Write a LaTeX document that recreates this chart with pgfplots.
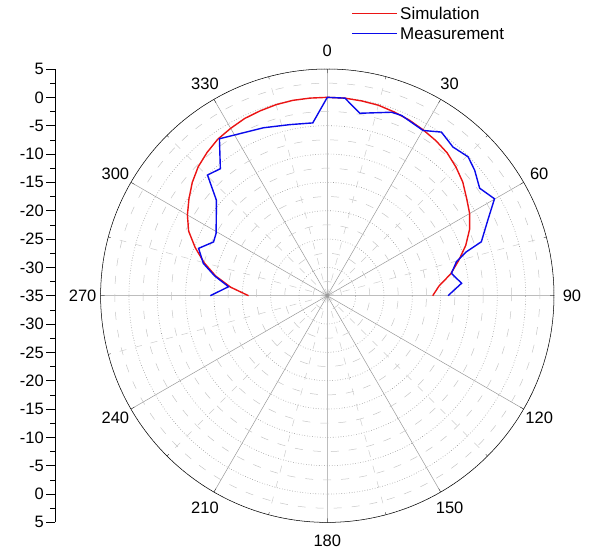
\documentclass[border=0pt]{standalone}
\usepackage{fontspec}
\setmainfont{Liberation Sans}
\usepackage{pgfplots}
\pgfplotsset{compat=1.18}
\usepgfplotslibrary{polar}
\usepackage{pgfplotstable}
\definecolor{simred}{RGB}{235,20,20}
\definecolor{meablue}{RGB}{10,10,235}
\pgfplotstableread{
a r
-90 -21.1
-85 -17.9
-80 -15.0
-75 -12.5
-70 -10.2
-65 -8.0
-60 -6.5
-55 -5.2
-50 -3.9
-45 -2.8
-40 -2.0
-35 -1.3
-30 -0.9
-25 -0.5
-20 -0.3
-15 -0.1
-10 0
-5 0
0 0
5 0
10 -0.1
15 -0.2
20 -0.5
25 -0.8
30 -1.2
35 -1.6
40 -2.1
45 -2.9
50 -3.8
55 -5.0
60 -6.0
65 -7.3
70 -9.0
75 -11.0
80 -12.9
85 -15.2
90 -16.4
}\simtable
\pgfplotstableread{
a r
-90 -14.35
-84.8 -17.5
-80 -14.8
-75.4 -12.4
-69.8 -10.8
-64.7 -12.8
-60.7 -12.5
-49.3 -9.2
-44.8 -5.0
-40.1 -5.7
-34.5 -1.4
-20.8 -3.3
-12.3 -4.1
-4.8 -4.4
0 0
5.1 0
10.1 -2.3
19.3 -0.7
22.4 -0.6
30.1 -1.3
34.9 0.2
40.2 -0.65
45.4 -0.1
49.6 -0.85
54.8 -2.1
59.9 -0.9
64.8 -3.7
70.7 -6.2
72.5 -9.3
75.3 -11.45
79.8 -12.75
84.7 -11.2
90 -13.7
}\meatable
\begin{document}
\begin{tikzpicture}
\begin{polaraxis}[
  at={(327.3pt,-295.7pt)}, anchor=center,
  scale only axis, width=453.4pt, height=453.4pt,
  xmin=0, xmax=360, ymin=0, ymax=40,
  xtick={0,30,...,330},
  xticklabels={90,60,30,0,330,300,270,240,210,180,150,120},
  minor x tick num=1,
  ytick={0,5,...,40},
  yticklabel style={text opacity=0},
  y axis line style={draw=none},
  minor y tick num=1,
  major y tick style={draw=none},
  minor y tick style={draw=none},
  major x tick style={black},
  minor x tick style={black},
  tick align=outside,
  major tick length=4pt, minor tick length=2.5pt,
  grid=both,
  major x grid style={gray!80, line width=0.5pt},
  minor x grid style={gray!40, line width=0.5pt, dash pattern=on 7pt off 9pt},
  major y grid style={gray!85, line width=0.6pt, dotted},
  minor y grid style={gray!45, line width=0.5pt, dash pattern=on 8pt off 10pt},
  x axis line style={black, line width=0.5pt},
  xticklabel style={font=\fontsize{16.5}{18}\selectfont, anchor=center,
    xshift={22pt*cos(\tick)}, yshift={22pt*sin(\tick)}},
  clip=false,
]
\addplot[simred, line width=1.4pt]
  table[x expr=90-\thisrow{a}, y expr=\thisrow{r}+35] {\simtable};
\addplot[meablue, line width=1.4pt]
  table[x expr=90-\thisrow{a}, y expr=\thisrow{r}+35] {\meatable};
\end{polaraxis}
\begin{axis}[
  at={(55pt,-295.7pt)}, anchor=west,
  scale only axis, width=1pt, height=453.4pt,
  xmin=0, xmax=1, ymin=-40, ymax=40,
  axis x line=none, axis y line=left,
  axis line style={black, line width=0.6pt, -},
  ytick={-40,-35,...,40},
  yticklabels={5,0,-5,-10,-15,-20,-25,-30,-35,-30,-25,-20,-15,-10,-5,0,5},
  minor y tick num=1,
  tick align=outside,
  major tick length=9pt, minor tick length=5pt,
  tick style={black, line width=0.6pt},
  yticklabel style={font=\fontsize{16.5}{18}\selectfont, inner sep=2pt},
  xtick=\empty,
  clip=false,
]
% legend keys
\addplot[simred, line width=1.4pt] coordinates {(297,49.83) (342,49.83)};
\addplot[meablue, line width=1.4pt] coordinates {(297,46.30) (342,46.30)};
\node[anchor=west, inner sep=0pt, font=\fontsize{17}{19}\selectfont]
  at (axis cs:345,49.83) {Simulation};
\node[anchor=west, inner sep=0pt, font=\fontsize{17}{19}\selectfont]
  at (axis cs:345,46.30) {Measurement};
\end{axis}
\pgfresetboundingbox
\path (0pt,0pt) rectangle (594pt,-553pt);
\end{tikzpicture}
\end{document}
